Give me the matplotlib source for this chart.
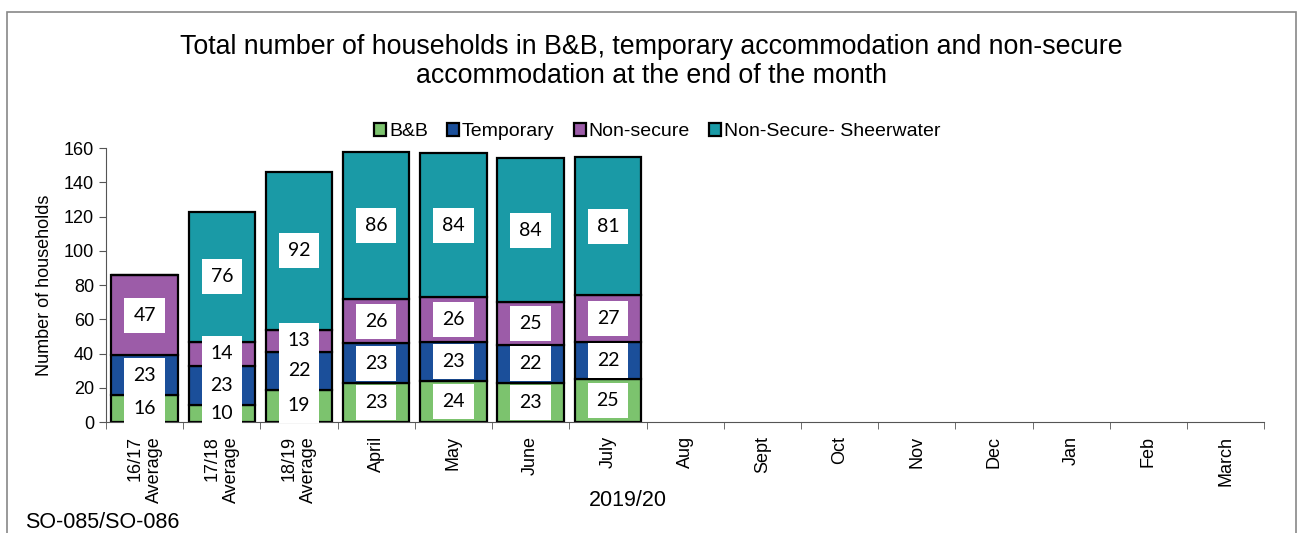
import numpy as np
import matplotlib
matplotlib.use('Agg')
import matplotlib.pyplot as plt
import matplotlib.transforms as mtransforms
from matplotlib.patches import Rectangle

plt.rcParams['font.family'] = ['Liberation Sans', 'DejaVu Sans']

# categories on the x axis (only the first 7 have data)
categories = ['16/17\nAverage', '17/18\nAverage', '18/19\nAverage', 'April', 'May',
              'June', 'July', 'Aug', 'Sept', 'Oct', 'Nov', 'Dec', 'Jan', 'Feb', 'March']

# series values
bnb = [16, 10, 19, 23, 24, 23, 25]
temporary = [23, 23, 22, 23, 23, 22, 22]
non_secure = [47, 14, 13, 26, 26, 25, 27]
sheerwater = [0, 76, 92, 86, 84, 84, 81]

series_names = ['B&B', 'Temporary', 'Non-secure', 'Non-Secure- Sheerwater']
series_colors = ['#7cc36e', '#1b4f9a', '#9c5ca8', '#1a9aa6']

fig = plt.figure(figsize=(13.03, 5.33), dpi=100)
ax = fig.add_axes([0.0813, 0.208, 0.889, 0.514])

# scanned-page style frame around the chart
fig.patches.append(Rectangle((7/1303, -0.1), 1289/1303, 1.1 - 12/533,
                             transform=fig.transFigure, fill=False,
                             edgecolor='#888888', lw=1.2))

x = np.arange(len(bnb))
bottom = np.zeros(len(bnb))
for vals, name, col in zip([bnb, temporary, non_secure, sheerwater], series_names, series_colors):
    vals = np.array(vals, dtype=float)
    ax.bar(x, vals, width=0.86, bottom=bottom, color=col, edgecolor='black',
           linewidth=1.6, label=name)
    for xi, b, v in zip(x, bottom, vals):
        if v > 0:
            ax.text(xi, b + v / 2, f'{int(v)}', ha='center', va='center',
                    fontsize=14, family=['Lato', 'DejaVu Sans'],
                    bbox=dict(facecolor='white', edgecolor='none', pad=6.5))
    bottom = bottom + vals

ax.set_xlim(-0.5, len(categories) - 0.5)
ax.set_ylim(0, 160)
ax.set_yticks(range(0, 161, 20))
ax.set_xticks(np.arange(-0.5, len(categories)), minor=True)
ax.set_xticks([])
ax.tick_params(axis='x', which='minor', length=5, color='#555555')
ax.tick_params(axis='y', labelsize=13, length=5, color='#555555')

# category labels: rotated, each line top-aligned under the axis
trans = mtransforms.blended_transform_factory(ax.transData, ax.transAxes)
line_step = 0.255
for i, cat in enumerate(categories):
    lines = cat.split('\n')
    n = len(lines)
    for j, line in enumerate(lines):
        off = (j - (n - 1) / 2) * line_step
        ax.annotate(line, xy=(i + off, 0), xycoords=trans, xytext=(0, -10),
                    textcoords='offset points', rotation=90, ha='center',
                    va='top', fontsize=13)

for s in ['top', 'right']:
    ax.spines[s].set_visible(False)
ax.spines['left'].set_color('#555555')
ax.spines['bottom'].set_color('#555555')

ax.set_ylabel('Number of households', fontsize=13, labelpad=8)

fig.suptitle('Total number of households in B&B, temporary accommodation and non-secure\naccommodation at the end of the month',
             fontsize=19.3, y=0.937, linespacing=1.17)

ax.legend(loc='lower center', bbox_to_anchor=(0.476, 1.0), ncol=4, frameon=False,
          fontsize=14, handlelength=0.6, handleheight=0.6, handletextpad=0.15,
          columnspacing=1.0, borderaxespad=0.0)

fig.text(628/1303, 1 - 500/533, '2019/20', fontsize=15.5, ha='center', va='center')
fig.text(25/1303, 1 - 522/533, 'SO-085/SO-086', fontsize=15.5, va='center')

fig.savefig('out.png', dpi=100)
